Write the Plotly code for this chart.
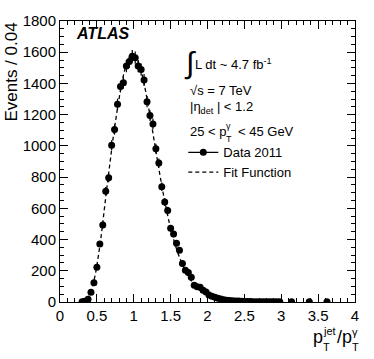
import numpy as np
import plotly.graph_objects as go

# ---- data ----
ratio_bins = [0.30, 0.34, 0.38, 0.42, 0.46, 0.50, 0.54, 0.58, 0.62, 0.66,
              0.70, 0.74, 0.78, 0.82, 0.86, 0.90, 0.94, 0.98, 1.02, 1.06,
              1.10, 1.14, 1.18, 1.22, 1.26, 1.30, 1.34, 1.38, 1.42, 1.46,
              1.50, 1.54, 1.58, 1.62, 1.66, 1.70, 1.74, 1.78, 1.82, 1.86,
              1.90, 1.94, 1.98, 2.02, 2.06, 2.10, 2.14, 2.18, 2.22, 2.26,
              2.30, 2.34, 2.38, 2.42, 2.46, 2.50, 2.54, 2.58, 2.62, 2.66,
              2.70, 2.74, 2.78, 2.82, 2.86, 2.90, 2.94, 2.98, 3.14, 3.38, 3.62]
events = [2, 5, 17, 63, 123, 222, 372, 494, 710, 796,
          1004, 1105, 1267, 1380, 1405, 1511, 1540, 1574, 1565, 1511,
          1489, 1422, 1283, 1194, 1141, 982, 890, 738, 640, 586,
          472, 435, 376, 332, 247, 203, 189, 158, 108, 97,
          95, 76, 64, 45, 37, 30, 24, 19, 15, 12,
          10, 8, 7, 6, 5, 4, 3, 3, 2, 2,
          2, 1, 1, 1, 1, 1, 1, 1, 1, 1, 1]

fit_x = [0.28, 0.32, 0.36, 0.40, 0.44, 0.48, 0.52, 0.56, 0.60, 0.64,
         0.68, 0.72, 0.76, 0.80, 0.84, 0.88, 0.92, 0.96, 1.00, 1.04,
         1.08, 1.12, 1.16, 1.20, 1.24, 1.28, 1.32, 1.36, 1.40, 1.44,
         1.48, 1.52, 1.56, 1.60, 1.64, 1.68, 1.72, 1.76, 1.80, 1.84,
         1.88, 1.92, 1.96, 2.00, 2.10, 2.20, 2.30, 2.40, 2.50]
fit_y = [0, 5, 18, 45, 100, 180, 295, 430, 590, 750,
         900, 1050, 1180, 1300, 1405, 1490, 1548, 1578, 1582, 1560,
         1512, 1442, 1352, 1248, 1138, 1025, 910, 800, 695, 600,
         512, 436, 370, 312, 262, 220, 182, 150, 123, 100,
         82, 67, 54, 44, 25, 14, 8, 4, 2]

x_ticks = [0, 0.5, 1, 1.5, 2, 2.5, 3, 3.5, 4]
x_tick_labels = ["0", "0.5", "1", "1.5", "2", "2.5", "3", "3.5", "4"]
y_ticks = [0, 200, 400, 600, 800, 1000, 1200, 1400, 1600, 1800]

FONT = "Liberation Sans, Arial, sans-serif"

fig = go.Figure()

fig.add_trace(go.Scatter(
    x=fit_x, y=fit_y, mode="lines", line=dict(color="black", width=1.3, dash="4px,3px", shape="spline"),
    showlegend=False, hoverinfo="skip"))

fig.add_trace(go.Scatter(
    x=ratio_bins, y=events, mode="markers",
    marker=dict(color="black", size=7),
    error_y=dict(type="data", array=list(np.sqrt(events)), color="black", thickness=1.2, width=0),
    showlegend=False))

# legend entries
fig.add_trace(go.Scatter(x=[None], y=[None], mode="lines+markers", name="Data 2011",
                         marker=dict(color="black", size=7), line=dict(color="black", width=1.2)))
fig.add_trace(go.Scatter(x=[None], y=[None], mode="lines", name="Fit Function",
                         line=dict(color="black", width=1.3, dash="4px,3px")))

W, H = 374, 359
L, R, T, B = 59.5, 19, 17, 57
pw, ph = W - L - R, H - T - B

def px(xp):
    return (xp - L) / pw

def py(yp):
    return (H - B - yp) / ph

ann = []
def text(s, x, y, size=13, xanchor="left", yanchor="middle", **kw):
    ann.append(dict(text=s, x=px(x), y=py(y), xref="paper", yref="paper", xanchor=xanchor,
                    yanchor=yanchor, showarrow=False, font=dict(family=FONT, size=size, color="black"), **kw))

text("<b><i>ATLAS</i></b>", 74, 30, size=16)
text("∫", 182, 60, size=30)
text("L dt ~ 4.7 fb<sup>-1</sup>", 193, 61, size=13)
text("√s = 7 TeV", 188, 87, size=13)
text("|η<sub>det</sub> | < 1.2", 188, 105, size=13)
text("25 < p", 188, 129, size=13)
text("γ", 224, 123, size=9)
text("T", 224, 137, size=9)
text("< 45 GeV", 236, 129, size=13)

# axis titles
text("Events / 0.04", 10.5, 17, size=17, xanchor="center", yanchor="top", textangle=-90)
text("p", 311, 338, size=18)
text("jet", 321, 331, size=11)
text("T", 321, 348, size=11)
text("/p", 335, 338, size=18)
text("γ", 350, 332, size=11)
text("T", 350, 348, size=11)

axis_common = dict(showline=True, linecolor="black", linewidth=1, mirror="allticks",
                   ticks="inside", tickcolor="black", ticklen=8, tickwidth=1,
                   showgrid=False, zeroline=False,
                   tickfont=dict(family=FONT, size=15, color="black"))

fig.update_layout(
    width=W, height=H,
    margin=dict(l=L, r=R, t=T, b=B),
    paper_bgcolor="white", plot_bgcolor="white",
    xaxis=dict(range=[0, 4], tickvals=x_ticks, ticktext=x_tick_labels,
               minor=dict(dtick=0.1, ticks="inside", ticklen=4, tickcolor="black"), **axis_common),
    yaxis=dict(range=[0, 1800], tickvals=y_ticks,
               minor=dict(dtick=50, ticks="inside", ticklen=4, tickcolor="black"), **axis_common),
    legend=dict(x=px(183), y=py(135), xanchor="left", yanchor="top", bgcolor="rgba(0,0,0,0)",
                font=dict(family=FONT, size=13, color="black"), tracegroupgap=0, itemwidth=30),
    annotations=ann,
    showlegend=True,
)

fig.write_html("out.html", config={"displayModeBar": False},
               post_script="document.body.style.margin='0';document.body.style.padding='0';")
